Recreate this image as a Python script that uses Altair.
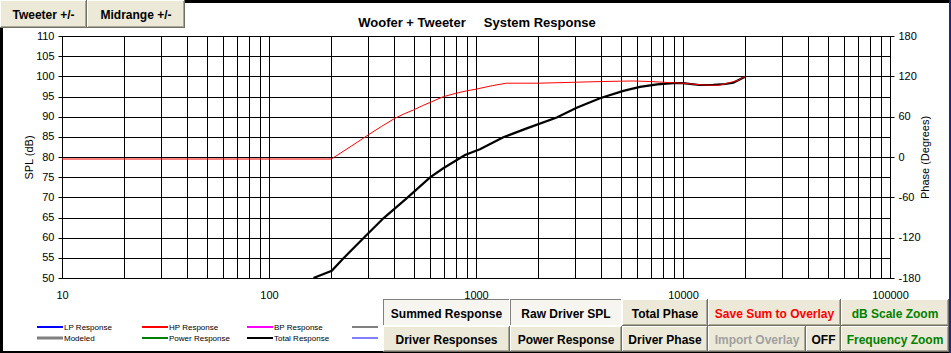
import altair as alt
import pandas as pd

# ---------------- data ----------------
hp_freq = [10, 200, 250, 302, 350, 406, 450, 498, 550, 611, 695, 800, 901, 1007, 1200, 1406,
           2000, 2845, 3970, 5000, 5754, 7000, 8980, 10000, 11000, 12100, 13500, 15000, 17200,
           18500, 19400, 20000]
hp_db = [79.5, 79.5, 82.7, 85.5, 87.6, 89.6, 90.7, 91.65, 92.7, 93.7, 94.95, 95.8, 96.4, 96.85,
         97.7, 98.3, 98.3, 98.5, 98.7, 98.8, 98.85, 98.7, 98.4, 98.3, 98.1, 97.9, 97.8, 97.8,
         98.6, 99.0, 99.7, 99.9]

tot_freq = [164, 201, 229, 296, 357, 462, 600, 695, 885, 1045, 1355, 1758, 2455, 3064, 3972,
            5152, 6196, 7500, 8980, 10000, 12000, 14000, 16000, 17500, 19400, 20000]
tot_db = [50.0, 51.8, 54.9, 60.65, 64.8, 69.75, 74.95, 77.2, 80.5, 81.9, 84.9, 87.1, 89.8, 92.2,
          94.55, 96.4, 97.4, 98.0, 98.3, 98.3, 97.85, 97.9, 98.1, 98.4, 99.6, 99.9]

spl_ticks = [50, 55, 60, 65, 70, 75, 80, 85, 90, 95, 100, 105, 110]
phase_ticks = [-180, -120, -60, 0, 60, 120, 180]
decades = [10, 100, 1000, 10000, 100000]

legend_labels = ["LP Response", "HP Response", "BP Response", "",
                 "Modeled", "Power Response", "Total Response", ""]
legend_colors = ["#0000FF", "#FF0000", "#FF00FF", "#808080",
                 "#808080", "#008000", "#000000", "#0000FF"]

buttons_top = ["Tweeter +/-", "Midrange  +/-"]
buttons_bottom = ["Summed Response", "Raw Driver SPL", "Total Phase", "Save Sum to Overlay",
                  "dB Scale Zoom", "Driver Responses", "Power Response", "Driver Phase",
                  "Import Overlay", "OFF", "Frequency Zoom"]

title_text = "Woofer + Tweeter\u00a0\u00a0\u00a0\u00a0\u00a0System Response"

# ---------------- layout ----------------
FONT = "Liberation Sans"
OX, OY = 62, 36          # plot origin in page pixels
W, H = 828, 242

grid_freqs = [m * 10 ** k for k in range(1, 5) for m in range(1, 10)] + [100000]

one = pd.DataFrame({"_": [0]})


def cx(x):
    return x - OX


def cy(y):
    return y - OY


def rect(x0, y0, x1, y1, fill):
    return alt.Chart(one).mark_rect(fill=fill, strokeWidth=0).encode(
        x=alt.value(cx(x0)), x2=alt.value(cx(x1)), y=alt.value(cy(y0)), y2=alt.value(cy(y1)))


def text(x, y, s, size=12, weight="bold", color="black", align="center"):
    return alt.Chart(one).mark_text(text=s, font=FONT, fontSize=size, fontWeight=weight,
                                    color=color, align=align, baseline="middle").encode(
        x=alt.value(cx(x)), y=alt.value(cy(y)))


def button(x0, y0, x1, y1, label, color="black", pressed=False):
    ls = []
    if pressed:
        ls.append(rect(x0, y0, x1, y1, "#F6F5F0"))
        ls.append(rect(x0, y0, x1, y0 + 1, "#808080"))
        ls.append(rect(x0, y0, x0 + 1, y1, "#808080"))
        ls.append(rect(x0, y1 - 1, x1, y1, "#FFFFFF"))
        ls.append(rect(x1 - 1, y0, x1, y1, "#FFFFFF"))
    else:
        ls.append(rect(x0, y0, x1, y1, "#ECE9D8"))
        ls.append(rect(x0, y0, x1, y0 + 1, "#FFFFFF"))
        ls.append(rect(x0, y0, x0 + 1, y1, "#FFFFFF"))
        ls.append(rect(x0, y1 - 1, x1, y1, "#716F64"))
        ls.append(rect(x1 - 1, y0, x1, y1, "#716F64"))
        ls.append(rect(x0 + 1, y1 - 2, x1 - 1, y1 - 1, "#ACA899"))
        ls.append(rect(x1 - 2, y0 + 1, x1 - 1, y1 - 1, "#ACA899"))
    ls.append(text((x0 + x1) / 2, (y0 + y1) / 2 + 1, label, color=color))
    return ls


# ---------------- data layers ----------------
df_hp = pd.DataFrame({"freq": hp_freq, "db": hp_db})
df_tot = pd.DataFrame({"freq": tot_freq, "db": tot_db})
df_phase = pd.DataFrame({"phase": phase_ticks})

dec_expr = "||".join(f"datum.value=={d}" for d in decades)
X = alt.X("freq:Q",
          scale=alt.Scale(type="log", domain=[10, 100000], nice=False),
          axis=alt.Axis(values=grid_freqs, labelExpr=f"({dec_expr}) ? format(datum.value,'d') : ''",
                        grid=True, gridColor="black", gridOpacity=1, gridWidth=1,
                        ticks=False, tickSize=0, domain=False, labelPadding=11,
                        labelFont=FONT, labelFontSize=11, labelColor="black",
                        labelOverlap=False, labelFlush=False, title=None))
Y = alt.Y("db:Q",
          scale=alt.Scale(domain=[50, 110], nice=False, zero=False),
          axis=alt.Axis(values=spl_ticks, grid=True, gridColor="black", gridOpacity=1,
                        gridWidth=1, tickColor="black", tickSize=4, domain=False,
                        labelPadding=4, labelFont=FONT, labelFontSize=11, labelColor="black",
                        title="SPL (dB)", titleFont=FONT, titleFontSize=11,
                        titleFontWeight="normal", titleColor="black", titlePadding=1))

hp = alt.Chart(df_hp).mark_line(color="#FF0000", strokeWidth=1).encode(x=X, y=Y)
tot = alt.Chart(df_tot).mark_line(color="#000000", strokeWidth=2.2).encode(x=X, y=Y)
lines = alt.layer(tot, hp)

phase_axis = alt.Chart(df_phase).mark_point(opacity=0).encode(
    y=alt.Y("phase:Q", scale=alt.Scale(domain=[-180, 180], nice=False, zero=False),
            axis=alt.Axis(orient="right", values=phase_ticks, grid=False, tickColor="black",
                          tickSize=4, domain=False, labelPadding=4, labelFont=FONT,
                          labelFontSize=11, labelColor="black",
                          labelExpr="'' + datum.value",
                          title="Phase (Degrees)", titleAngle=270,
                          titleFont=FONT, titleFontSize=11, titleFontWeight="normal",
                          titleColor="black", titlePadding=10)))

# ---------------- chrome layers ----------------
chrome = []
# title
chrome.append(text(477, 23, title_text, size=13))

# legend
for i, (lab, col) in enumerate(zip(legend_labels, legend_colors)):
    r, c = divmod(i, 4)
    x0 = 37 + c * 105
    y = 327 + r * 11
    sw = 3 if (r == 1 and c == 0) else (1 if (r == 1 and c == 3) else 2)
    chrome.append(rect(x0, y - sw / 2, x0 + 26, y + sw / 2, col))
    if lab:
        chrome.append(text(x0 + 27, y + 0.5, lab, size=8, weight="normal", align="left"))

# frame
chrome.append(rect(184, 0, 951, 3, "#000000"))
chrome.append(rect(0, 28, 3, 353, "#000000"))
chrome.append(rect(0, 351, 951, 353, "#000000"))
chrome.append(rect(949, 0, 951, 353, "#1C2A7A"))

# top buttons
chrome += button(0, 0, 87, 28, buttons_top[0])
chrome += button(87, 0, 185, 28, buttons_top[1])

# bottom buttons
r1, r1b, r2, r2b = 299, 326, 326, 352
chrome += button(383, r1, 510, r1b, buttons_bottom[0], pressed=True)
chrome += button(510, r1, 622, r1b, buttons_bottom[1], pressed=True)
chrome += button(622, r1, 708, r1b, buttons_bottom[2])
chrome += button(708, r1, 841, r1b, buttons_bottom[3], color="#FF0000")
chrome += button(841, r1, 949, r1b, buttons_bottom[4], color="#008000")
chrome += button(383, r2, 510, r2b, buttons_bottom[5])
chrome += button(510, r2, 622, r2b, buttons_bottom[6])
chrome += button(622, r2, 708, r2b, buttons_bottom[7])
chrome += button(708, r2, 806, r2b, buttons_bottom[8], color="#A0A0A0")
chrome += button(806, r2, 841, r2b, buttons_bottom[9])
chrome += button(841, r2, 949, r2b, buttons_bottom[10], color="#008000")

chart = alt.layer(lines, phase_axis, *chrome).resolve_scale(y="independent").properties(
    width=W, height=H,
    padding={"left": OX, "top": OY, "right": 951 - OX - W, "bottom": 353 - OY - H},
    autosize=alt.AutoSizeParams(type="none"),
    background="white",
).configure_view(stroke="black", strokeWidth=1)

chart.save("out.html", embed_options={"renderer": "svg", "actions": False})
